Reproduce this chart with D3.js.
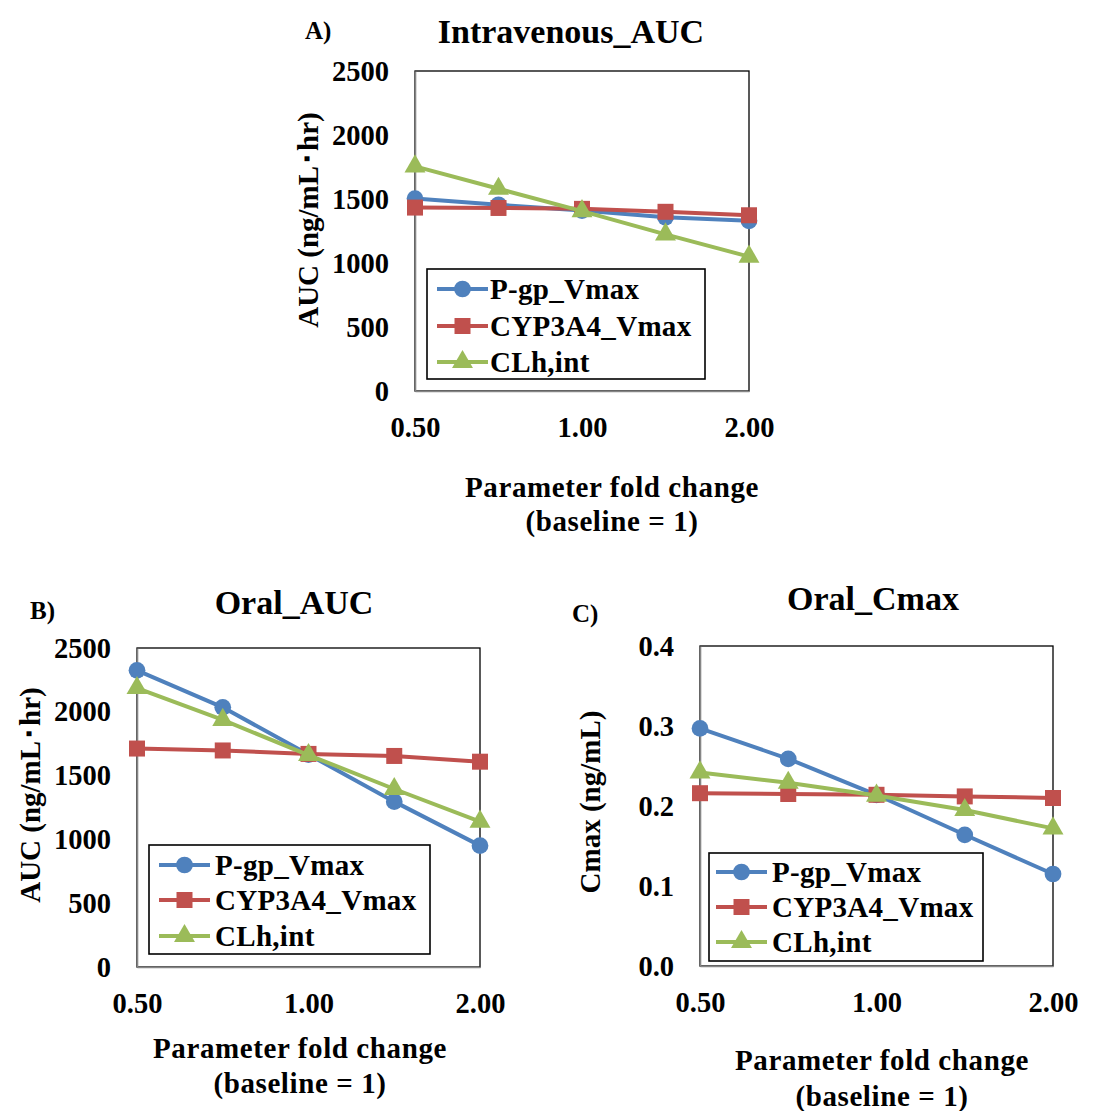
<html>
<head>
<script src="https://d3js.org/d3.v7.min.js"></script>
<style>
  body { margin: 0; background: #fff; }
  svg text { font-family: "Liberation Serif", "Times New Roman", serif; font-weight: bold; fill: #000; }
</style>
</head>
<body>
<svg id="fig" width="1094" height="1111"></svg>
<script>
// x categories (parameter fold change), only every other one is labelled
const foldLevels = ["0.50", "0.75", "1.00", "1.50", "2.00"];
const foldTicks = ["0.50", "1.00", "2.00"];
const seriesNames = ["P-gp_Vmax", "CYP3A4_Vmax", "CLh,int"];
const aucTicks = [0, 500, 1000, 1500, 2000, 2500];
const cmaxTicks = [0, 0.1, 0.2, 0.3, 0.4];

// A) intravenous AUC
const ivAucPgp = [1503, 1455, 1410, 1357, 1330];
const ivAucCyp = [1433, 1430, 1423, 1400, 1373];
const ivAucClh = [1755, 1580, 1405, 1224, 1050];

// B) oral AUC
const oralAucPgp = [2325, 2035, 1665, 1296, 951];
const oralAucCyp = [1712, 1697, 1670, 1654, 1609];
const oralAucClh = [2186, 1936, 1661, 1395, 1139];

// C) oral Cmax
const oralCmaxPgp = [0.297, 0.259, 0.214, 0.164, 0.115];
const oralCmaxCyp = [0.216, 0.215, 0.214, 0.212, 0.210];
const oralCmaxClh = [0.242, 0.229, 0.213, 0.195, 0.172];

const colors = ["#4F81BD", "#C0504D", "#9BBB59"];
const shapes = [d3.symbolCircle, d3.symbolSquare, d3.symbolTriangle];
const shapeSize = [220, 256, 190];

const svg = d3.select("#fig");

const panels = [
  {
    tag: "A)", tagX: 305, tagY: 39,
    title: "Intravenous_AUC", titleX: 571, titleY: 43,
    left: 415, right: 749, top: 71, bottom: 391,
    yMax: 2500, yTicks: aucTicks, fmt: d3.format("d"),
    yTitle: "AUC (ng/mL\uFF65hr)", yTitleX: 308, yTitleY: 220,
    xTitleX: 612, xTitleY: [497, 531],
    legend: { x: 427, y: 269, w: 278, h: 110, rows: [289, 326, 362], lx: 437, tx: 490 },
    series: [ivAucPgp, ivAucCyp, ivAucClh]
  },
  {
    tag: "B)", tagX: 30, tagY: 619,
    title: "Oral_AUC", titleX: 294, titleY: 614,
    left: 137, right: 480, top: 648, bottom: 967,
    yMax: 2500, yTicks: aucTicks, fmt: d3.format("d"),
    yTitle: "AUC (ng/mL\uFF65hr)", yTitleX: 30, yTitleY: 795,
    xTitleX: 300, xTitleY: [1058, 1093],
    legend: { x: 149, y: 845, w: 281, h: 109, rows: [865, 900, 936], lx: 159, tx: 215 },
    series: [oralAucPgp, oralAucCyp, oralAucClh]
  },
  {
    tag: "C)", tagX: 572, tagY: 622,
    title: "Oral_Cmax", titleX: 873, titleY: 610,
    left: 700, right: 1053, top: 646, bottom: 966,
    yMax: 0.4, yTicks: cmaxTicks, fmt: d3.format(".1f"),
    yTitle: "Cmax (ng/mL)", yTitleX: 590, yTitleY: 802,
    xTitleX: 882, xTitleY: [1070, 1106],
    legend: { x: 709, y: 853, w: 274, h: 108, rows: [872, 907, 942], lx: 716, tx: 772 },
    series: [oralCmaxPgp, oralCmaxCyp, oralCmaxClh]
  }
];

panels.forEach(p => {
  const g = svg.append("g");

  const x = d3.scalePoint().domain(foldLevels).range([p.left, p.right]);
  const y = d3.scaleLinear().domain([0, p.yMax]).range([p.bottom, p.top]);

  // plot area border
  g.append("rect")
    .attr("x", p.left).attr("y", p.top)
    .attr("width", p.right - p.left).attr("height", p.bottom - p.top)
    .attr("fill", "none").attr("stroke", "#000").attr("stroke-width", 1.3);

  // axes
  const yAxis = g.append("g")
    .attr("transform", `translate(${p.left},0)`)
    .call(d3.axisLeft(y).tickValues(p.yTicks).tickFormat(p.fmt).tickSize(0).tickPadding(26));
  const xAxis = g.append("g")
    .attr("transform", `translate(0,${p.bottom})`)
    .call(d3.axisBottom(x).tickValues(foldTicks).tickSize(0).tickPadding(26));

  [yAxis, xAxis].forEach(a => {
    a.attr("font-family", null).attr("font-size", 28.5);
    a.select(".domain").attr("stroke", "#868686").attr("stroke-width", 1.6);
  });

  // series lines + markers
  const line = d3.line().x((d, i) => x(foldLevels[i])).y(d => y(d));
  p.series.forEach((vals, s) => {
    g.append("path")
      .attr("d", line(vals))
      .attr("fill", "none")
      .attr("stroke", colors[s])
      .attr("stroke-width", 4);
    g.selectAll(null)
      .data(vals)
      .join("path")
      .attr("transform", (d, i) => `translate(${x(foldLevels[i])},${y(d)})`)
      .attr("d", d3.symbol(shapes[s], shapeSize[s]))
      .attr("fill", colors[s]);
  });

  // legend
  const L = p.legend;
  g.append("rect")
    .attr("x", L.x).attr("y", L.y).attr("width", L.w).attr("height", L.h)
    .attr("fill", "#fff").attr("stroke", "#000").attr("stroke-width", 1.6);
  seriesNames.forEach((name, s) => {
    const ry = L.rows[s];
    g.append("line")
      .attr("x1", L.lx).attr("x2", L.lx + 51).attr("y1", ry).attr("y2", ry)
      .attr("stroke", colors[s]).attr("stroke-width", 4);
    g.append("path")
      .attr("transform", `translate(${L.lx + 25.5},${ry})`)
      .attr("d", d3.symbol(shapes[s], shapeSize[s]))
      .attr("fill", colors[s]);
    g.append("text")
      .attr("x", L.tx).attr("y", ry).attr("dy", "0.34em")
      .attr("font-size", 29)
      .attr("letter-spacing", 0.3)
      .text(name);
  });

  // titles
  g.append("text").attr("x", p.titleX).attr("y", p.titleY)
    .attr("text-anchor", "middle").attr("font-size", 34).text(p.title);
  g.append("text").attr("x", p.tagX).attr("y", p.tagY)
    .attr("font-size", 25).text(p.tag);
  g.append("text")
    .attr("transform", `translate(${p.yTitleX},${p.yTitleY}) rotate(-90)`)
    .attr("dy", "0.33em").attr("text-anchor", "middle")
    .attr("font-size", 29).text(p.yTitle);
  ["Parameter fold change", "(baseline = 1)"].forEach((t, k) => {
    g.append("text").attr("x", p.xTitleX).attr("y", p.xTitleY[k])
      .attr("text-anchor", "middle").attr("font-size", 29)
      .attr("letter-spacing", 0.6).text(t);
  });
});
</script>
</body>
</html>
